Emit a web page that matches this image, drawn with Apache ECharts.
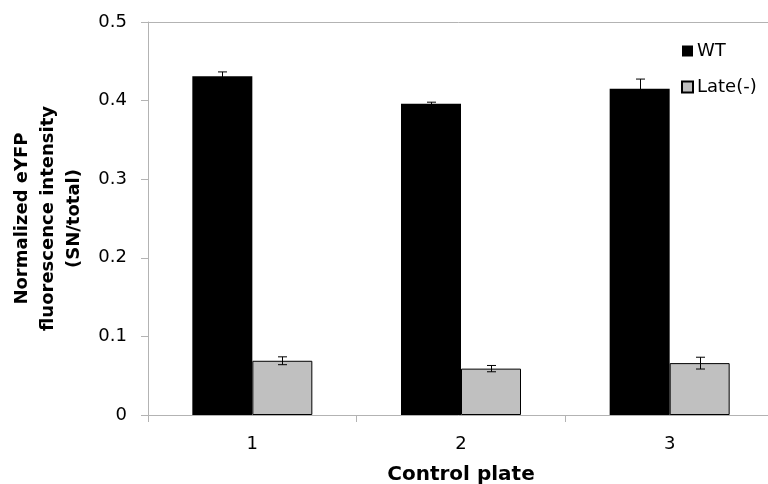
<!DOCTYPE html>
<html>
<head>
<meta charset="utf-8">
<script src="https://cdn.jsdelivr.net/npm/echarts@6/dist/echarts.min.js"></script>
<style>html,body{margin:0;padding:0;background:#fff}#c{width:768px;height:484px}</style>
</head>
<body>
<div id="c"></div>
<script>
const categories = ['1', '2', '3'];
const wtValues = [0.431, 0.396, 0.415];
const wtErrors = [0.0055, 0.002, 0.0124];
const lateValues = [0.069, 0.059, 0.066];
const lateErrors = [0.005, 0.004, 0.0075];
const yTicks = [0, 0.1, 0.2, 0.3, 0.4, 0.5];

const FONT = 'DejaVu Sans';
const BAR_W = 60;
const chart = echarts.init(document.getElementById('c'));

function errSeries(name, values, errors, offset) {
  return {
    type: 'custom',
    name: name + ' err',
    z: 5,
    silent: true,
    data: values.map((v, i) => [i, v, errors[i]]),
    renderItem: function (params, api) {
      const i = api.value(0), v = api.value(1), e = api.value(2);
      const top = api.coord([i, v + e]);
      const bot = api.coord([i, v - e]);
      const x = Math.round(top[0] + offset) + 0.5;
      const cap = 4.5;
      const st = { stroke: '#000', lineWidth: 1, fill: null };
      return {
        type: 'group',
        children: [
          { type: 'line', shape: { x1: x, y1: top[1], x2: x, y2: bot[1] }, style: st },
          { type: 'line', shape: { x1: x - cap, y1: top[1], x2: x + cap, y2: top[1] }, style: st },
          { type: 'line', shape: { x1: x - cap, y1: bot[1], x2: x + cap, y2: bot[1] }, style: st }
        ]
      };
    }
  };
}

chart.setOption({
  animation: false,
  backgroundColor: '#fff',
  grid: { left: 148, right: -6, top: 22, bottom: 69, containLabel: false, outerBoundsMode: 'none' },
  legend: {
    orient: 'vertical',
    left: 681, top: 42,
    padding: 0,
    itemWidth: 11, itemHeight: 11, itemGap: 18,
    icon: 'rect',
    data: ['WT', 'Late(-)'],
    textStyle: { fontFamily: FONT, fontSize: 18, color: '#000', padding: [0, 0, 0, -1] }
  },
  xAxis: {
    type: 'category',
    data: categories,
    boundaryGap: true,
    name: 'Control plate',
    nameLocation: 'middle',
    nameGap: 50,
    nameTextStyle: { fontFamily: FONT, fontSize: 20, fontWeight: 'bold', color: '#000' },
    axisLine: { lineStyle: { color: '#b3b3b3', width: 1 } },
    axisTick: { show: true, length: 7, alignWithLabel: false, lineStyle: { color: '#b3b3b3' } },
    axisLabel: { fontFamily: FONT, fontSize: 18, color: '#000', margin: 20 },
    splitLine: { show: false }
  },
  yAxis: {
    type: 'value',
    min: yTicks[0], max: yTicks[yTicks.length - 1], interval: 0.1,
    name: 'Normalized eYFP\nfluorescence intensity\n(SN/total)',
    nameLocation: 'middle',
    nameGap: 61,
    nameTextStyle: { fontFamily: FONT, fontSize: 18, fontWeight: 'bold', color: '#000', lineHeight: 26 },
    axisLine: { show: true, lineStyle: { color: '#b3b3b3', width: 1 } },
    axisTick: { show: true, length: 7, lineStyle: { color: '#b3b3b3' } },
    axisLabel: { fontFamily: FONT, fontSize: 18, color: '#000', margin: 21,
      formatter: v => (v === 0 ? '0' : v.toFixed(1)) },
    splitLine: { show: false }
  },
  series: [
    {
      name: 'WT', type: 'bar', data: wtValues, barWidth: BAR_W, barGap: '0%',
      itemStyle: { color: '#000' },
      markLine: {
        silent: true, symbol: 'none', label: { show: false },
        lineStyle: { color: '#b3b3b3', type: 'solid', width: 1 },
        data: [{ yAxis: yTicks[yTicks.length - 1] }]
      }
    },
    {
      name: 'Late(-)', type: 'bar', data: lateValues, barWidth: BAR_W, barGap: '0%',
      itemStyle: { color: '#c0c0c0', borderColor: '#000', borderWidth: 1 }
    },
    errSeries('WT', wtValues, wtErrors, -BAR_W / 2),
    errSeries('Late(-)', lateValues, lateErrors, BAR_W / 2)
  ]
});
</script>
</body>
</html>
